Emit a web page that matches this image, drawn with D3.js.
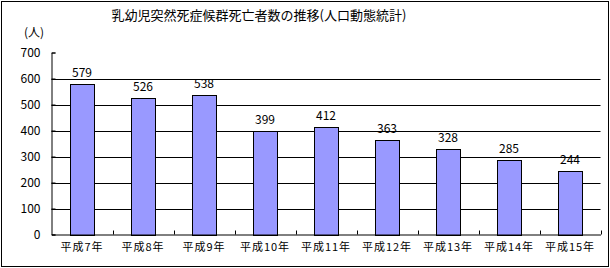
<!DOCTYPE html>
<html lang="ja">
<head>
<meta charset="UTF-8">
<title>乳幼児突然死症候群死亡者数の推移</title>
<script src="https://cdnjs.cloudflare.com/ajax/libs/d3/7.8.5/d3.min.js"></script>
<style>
  body { margin: 0; background: #fff; }
  svg { display: block; }
  text { font-family: "Noto Sans CJK JP", "Noto Sans", sans-serif; fill: #000; }
</style>
</head>
<body>
<svg id="chart" width="610" height="268"></svg>
<script>
// data
const years = ["平成7年", "平成8年", "平成9年", "平成10年", "平成11年", "平成12年", "平成13年", "平成14年", "平成15年"];
const deaths = [579, 526, 538, 399, 412, 363, 328, 285, 244];
const yTicks = [0, 100, 200, 300, 400, 500, 600, 700];

const svg = d3.select("#chart");
const plotLeft = 51.5, plotRight = 600.5, plotTop = 52.5, plotBottom = 234.5;

// outer frame
svg.append("rect")
    .attr("x", 1.5).attr("y", 1.5)
    .attr("width", 607).attr("height", 265)
    .attr("fill", "#fff").attr("stroke", "#000");

svg.append("text")
    .attr("x", 259).attr("y", 20)
    .attr("text-anchor", "middle")
    .attr("font-size", 13)
    .text("乳幼児突然死症候群死亡者数の推移(人口動態統計)");

svg.append("text")
    .attr("x", 34).attr("y", 37)
    .attr("text-anchor", "middle")
    .attr("font-size", 12)
    .text("(人)");

const x = d3.scaleBand().domain(years).range([plotLeft, plotRight]).paddingInner(0.6).paddingOuter(0.3);
const y = d3.scaleLinear().domain([0, 700]).range([plotBottom, plotTop]);

// gridlines
svg.append("g")
    .selectAll("line")
    .data(yTicks.filter(d => d > 0 && d < 700))
    .join("line")
    .attr("x1", plotLeft).attr("x2", plotRight)
    .attr("y1", d => Math.round(y(d)) + 0.5).attr("y2", d => Math.round(y(d)) + 0.5)
    .attr("stroke", "#000");

// bars
svg.append("g")
    .selectAll("rect")
    .data(deaths)
    .join("rect")
    .attr("x", (d, i) => Math.round(x(years[i])) + 0.5)
    .attr("y", d => Math.round(y(d)) + 0.5)
    .attr("width", Math.round(x.bandwidth()))
    .attr("height", d => Math.round(y(0)) - Math.round(y(d)))
    .attr("fill", "#9999ff")
    .attr("stroke", "#000");

// value labels
svg.append("g")
    .selectAll("text")
    .data(deaths)
    .join("text")
    .attr("x", (d, i) => x(years[i]) + x.bandwidth() / 2)
    .attr("y", d => y(d) - 7)
    .attr("text-anchor", "middle")
    .attr("font-size", 12)
    .attr("font-family", "Arial, 'Liberation Sans', sans-serif")
    .text(d => d);

// y axis
const yAxis = d3.axisLeft(y).tickValues(yTicks).tickSize(-4).tickPadding(11);
svg.append("g")
    .attr("transform", `translate(${plotLeft},0)`)
    .call(yAxis)
    .call(g => g.select(".domain").attr("stroke", "#000"))
    .call(g => g.selectAll(".tick text")
        .attr("font-size", 12)
        .attr("font-family", "Arial, 'Liberation Sans', sans-serif"));

// x axis with ticks at category boundaries
const xAxis = d3.axisBottom(x).tickSize(0).tickPadding(9);
svg.append("g")
    .attr("transform", `translate(0,${plotBottom})`)
    .call(xAxis)
    .call(g => g.select(".domain").attr("stroke", "#000"))
    .call(g => g.selectAll(".tick text")
        .attr("font-size", 11)
        .attr("letter-spacing", "1px")
        .attr("font-family", "'Noto Sans CJK JP', sans-serif"));

svg.append("g")
    .selectAll("line")
    .data(d3.range(1, years.length + 1))
    .join("line")
    .attr("x1", i => Math.round(plotLeft + i * x.step()) + 0.5)
    .attr("x2", i => Math.round(plotLeft + i * x.step()) + 0.5)
    .attr("y1", plotBottom).attr("y2", plotBottom - 4)
    .attr("stroke", "#000");
</script>
</body>
</html>
